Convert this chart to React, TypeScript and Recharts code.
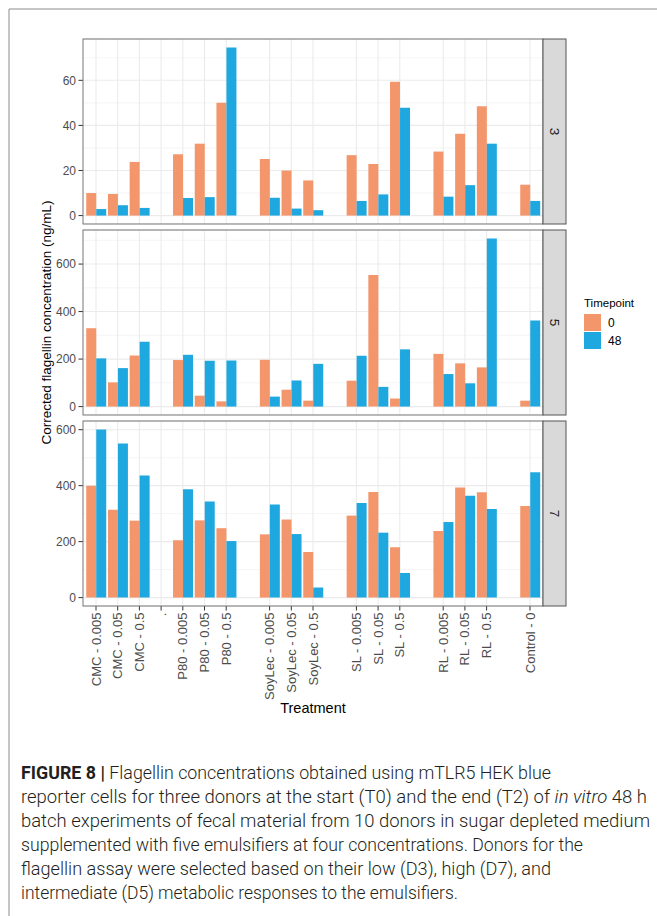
import React from 'react';
import { BarChart, Bar, XAxis, YAxis, CartesianGrid, ReferenceLine } from 'recharts';

const FONT = '"Liberation Sans", Arial, Helvetica, sans-serif';
const CAP_FONT = 'Roboto, "Liberation Sans", Arial, sans-serif';

// Treatment categories (entries starting with "_" are empty spacer slots)
const categories = [
  'CMC - 0.005', 'CMC - 0.05', 'CMC - 0.5', '.',
  'P80 - 0.005', 'P80 - 0.05', 'P80 - 0.5', '_gap1',
  'SoyLec - 0.005', 'SoyLec - 0.05', 'SoyLec - 0.5', '_gap2',
  'SL - 0.005', 'SL - 0.05', 'SL - 0.5', '_gap3',
  'RL - 0.005', 'RL - 0.05', 'RL - 0.5', '_gap4',
  'Control - 0',
];

const timepoints = ['0', '48'];
const seriesColors = ['#F4966B', '#1FA8DF'];

// Donor 3
const donor3_t0 = [10.0, 9.6, 23.8, null, 27.2, 31.9, 50.1, null, 25.1, 20.0, 15.6, null, 26.8, 22.9, 59.4, null, 28.4, 36.3, 48.5, null, 13.7];
const donor3_t48 = [2.9, 4.6, 3.4, null, 7.8, 8.2, 74.6, null, 7.9, 3.1, 2.4, null, 6.5, 9.4, 47.8, null, 8.4, 13.5, 31.9, null, 6.5];
// Donor 5
const donor5_t0 = [330, 102, 215, null, 196, 46, 22, null, 197, 71, 25, null, 109, 554, 34, null, 222, 182, 165, null, 25];
const donor5_t48 = [203, 162, 273, null, 218, 193, 194, null, 42, 110, 180, null, 214, 83, 241, null, 137, 98, 708, null, 362];
// Donor 7
const donor7_t0 = [400, 314, 275, null, 205, 276, 248, null, 226, 279, 163, null, 293, 377, 180, null, 238, 393, 376, null, 327];
const donor7_t48 = [601, 551, 436, null, 387, 343, 202, null, 333, 227, 36, null, 338, 232, 88, null, 270, 364, 317, null, 448];

const panelLabels = ['3', '5', '7'];
const majorTicks3 = [0, 20, 40, 60];
const minorTicks3 = [10, 30, 50, 70];
const majorTicks5 = [0, 200, 400, 600];
const minorTicks5 = [100, 300, 500, 700];
const majorTicks7 = [0, 200, 400, 600];
const minorTicks7 = [100, 300, 500];

const yTitle = 'Corrected flagellin concentration (ng/mL)';
const xTitle = 'Treatment';
const legendTitle = 'Timepoint';

const makeData = (a: (number | null)[], b: (number | null)[]) =>
  categories.map((c, i) => ({ cat: c, t0: a[i], t48: b[i] }));

const panels = [
  { label: panelLabels[0], data: makeData(donor3_t0, donor3_t48), domain: [-3.73, 78.33], major: majorTicks3, minor: minorTicks3 },
  { label: panelLabels[1], data: makeData(donor5_t0, donor5_t48), domain: [-35.4, 743.4], major: majorTicks5, minor: minorTicks5 },
  { label: panelLabels[2], data: makeData(donor7_t0, donor7_t48), domain: [-30.05, 631.05], major: majorTicks7, minor: minorTicks7 },
];

// layout
const W = 657;
const H = 916;
const PL = 83;
const PR = 543;
const PH = 185;
const tops = [39, 230, 421];
const STRIP_W = 23;

const labeled = categories.filter((c) => !c.startsWith('_'));

const XTick = (props: any) => {
  const { x, y, payload } = props;
  const label = String(payload.value);
  if (label.startsWith('_')) return null;
  const ty = y + 6.5;
  return (
    <g>
      <line x1={x} x2={x} y1={y} y2={y + 4.5} stroke="#333" strokeWidth={1} />
      <text
        x={x}
        y={ty}
        transform={`rotate(-90 ${x} ${ty})`}
        textAnchor="end"
        dy="0.35em"
        fontSize={13}
        fill="#4D4D4D"
        fontFamily={FONT}
      >
        {label}
      </text>
    </g>
  );
};

const YTick = (props: any) => {
  const { x, y, payload } = props;
  return (
    <text x={x} y={y} textAnchor="end" dy="0.35em" fontSize={12} fill="#4D4D4D" fontFamily={FONT}>
      {String(payload.value)}
    </text>
  );
};

const captionLines = [
  { parts: [{ t: 'FIGURE 8 | ', b: true }, { t: 'Flagellin concentrations obtained using mTLR5 HEK blue' }], w: 530 },
  { parts: [{ t: 'reporter cells for three donors at the start (T0) and the end (T2) of ' }, { t: 'in vitro', i: true }, { t: ' 48 h' }], w: 626 },
  { parts: [{ t: 'batch experiments of fecal material from 10 donors in sugar depleted medium' }], w: 629 },
  { parts: [{ t: 'supplemented with five emulsifiers at four concentrations. Donors for the' }], w: 562 },
  { parts: [{ t: 'flagellin assay were selected based on their low (D3), high (D7), and' }], w: 530 },
  { parts: [{ t: 'intermediate (D5) metabolic responses to the emulsifiers.' }], w: 437 },
];

export default function App() {
  return (
    <div style={{ position: 'absolute', left: 0, top: 0, width: W, height: H, background: '#fff', overflow: 'hidden' }}>
      {panels.map((p, idx) => {
        const top = tops[idx];
        const bottom = top + PH;
        const isLast = idx === panels.length - 1;
        const xAxisH = isLast ? 100 : 0;
        return (
          <div key={p.label} style={{ position: 'absolute', left: 0, top: 0 }}>
            <BarChart
              width={W}
              height={bottom + xAxisH}
              data={p.data}
              margin={{ top, right: W - PR, bottom: 0, left: 0 }}
              barCategoryGap="5%"
              barGap={0}
            >
              <CartesianGrid vertical={false} stroke="#EBEBEB" strokeWidth={1.1} />
              {p.minor.map((v) => (
                <ReferenceLine key={'m' + v} y={v} stroke="#EEEEEE" strokeWidth={0.6} zIndex={-50} />
              ))}
              {labeled.map((c) => (
                <ReferenceLine key={'v' + c} x={c} stroke="#EBEBEB" strokeWidth={1.1} zIndex={-50} />
              ))}
              <XAxis
                dataKey="cat"
                type="category"
                hide={!isLast}
                height={xAxisH}
                interval={0}
                padding={{ left: 2.15, right: 2.15 }}
                tickSize={0}
                tickMargin={0}
                axisLine={false}
                tickLine={false}
                tick={<XTick />}
              />
              <YAxis
                type="number"
                domain={p.domain}
                ticks={p.major}
                allowDataOverflow
                interval={0}
                width={PL}
                tickSize={4.5}
                tickMargin={2.5}
                axisLine={false}
                tickLine={{ stroke: '#333' }}
                tick={<YTick />}
              />
              <Bar dataKey="t0" name={timepoints[0]} fill={seriesColors[0]} isAnimationActive={false} />
              <Bar dataKey="t48" name={timepoints[1]} fill={seriesColors[1]} isAnimationActive={false} />
            </BarChart>
          </div>
        );
      })}

      <svg width={W} height={H} style={{ position: 'absolute', left: 0, top: 0, pointerEvents: 'none' }} fontFamily={FONT}>
        {/* outer figure frame */}
        <line x1={9} y1={9} x2={W} y2={9} stroke="#8C8C8C" strokeWidth={1} />
        <line x1={9} y1={9} x2={9} y2={H} stroke="#8C8C8C" strokeWidth={1} />

        {panels.map((p, idx) => {
          const top = tops[idx];
          return (
            <g key={'b' + p.label}>
              <rect x={PL} y={top} width={PR - PL} height={PH} fill="none" stroke="#777" strokeWidth={1} />
              <rect x={PR} y={top} width={STRIP_W} height={PH} fill="#D9D9D9" stroke="#555" strokeWidth={1} />
              <text
                x={PR + STRIP_W / 2}
                y={top + PH / 2}
                transform={`rotate(90 ${PR + STRIP_W / 2} ${top + PH / 2})`}
                textAnchor="middle"
                dy="0.35em"
                fontSize={13.5}
                fill="#1A1A1A"
              >
                {p.label}
              </text>
            </g>
          );
        })}

        {/* axis titles */}
        <text
          x={46}
          y={(tops[0] + tops[2] + PH) / 2}
          transform={`rotate(-90 46 ${(tops[0] + tops[2] + PH) / 2})`}
          textAnchor="middle"
          dy="0.35em"
          fontSize={13.5}
          fill="#000"
        >
          {yTitle}
        </text>
        <text x={(PL + PR) / 2} y={713} textAnchor="middle" fontSize={14.5} fill="#000">
          {xTitle}
        </text>

        {/* legend */}
        <text x={584} y={307} fontSize={11.5} fill="#000">
          {legendTitle}
        </text>
        {timepoints.map((t, i) => (
          <g key={'lg' + t}>
            <rect x={584} y={314 + i * 18} width={17} height={17} fill={seriesColors[i]} />
            <text x={608} y={322.5 + i * 18} dy="0.35em" fontSize={12} fill="#000">
              {t}
            </text>
          </g>
        ))}

        {/* caption */}
        {captionLines.map((ln, i) => (
          <text
            key={'c' + i}
            x={21}
            y={779 + i * 24}
            fontSize={17.5}
            fill="#231F20"
            fontFamily={CAP_FONT}
            fontWeight={300}
            textLength={ln.w}
            lengthAdjust="spacingAndGlyphs"
          >
            {ln.parts.map((pt: any, j: number) => (
              <tspan key={j} fontWeight={pt.b ? 700 : 300} fontStyle={pt.i ? 'italic' : 'normal'}>
                {pt.t}
              </tspan>
            ))}
          </text>
        ))}
      </svg>
    </div>
  );
}
